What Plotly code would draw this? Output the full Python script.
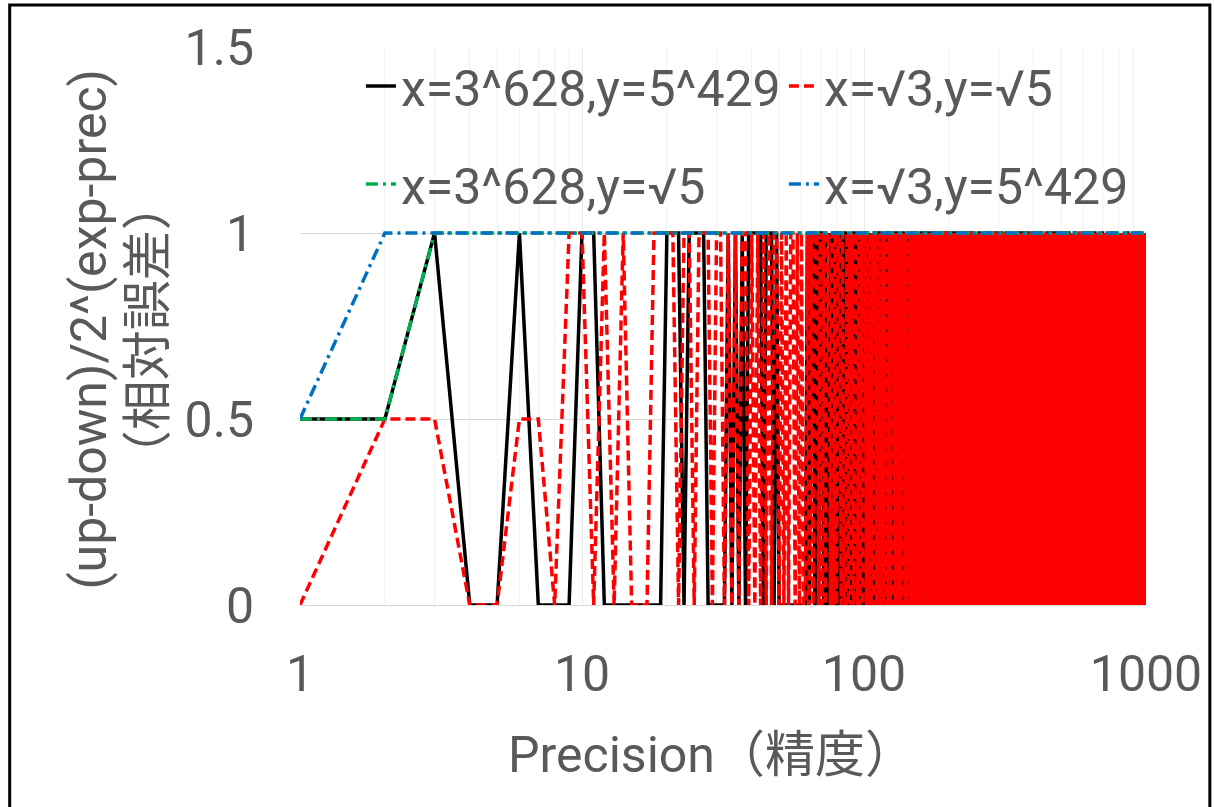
import plotly.graph_objects as go

# ---------------- data ----------------
# values per precision 1..1000 ; 'h' = 0.5
BLACK_STR = """
hh10010001 1000000001 1101111000 0010101011 1110111010
0000000000 0010110101 1010010110 1010110101 0110101011
0110100101 1011010010 1101001011 0100101101 1010010110
0101101001 1001011010 0110100110 1011001011 0100110101
1100101101 0011010110 1010011001 0110101001 1011010100
0101011010 1010100101 1101010010 0010110101 1001101010
1010101101 0101001011 0110110100 1001010110 1101001010
0110010101 1010110010 0101101101 1010010101 0011010110
1001101001 0110010110 1010101001 0101100110 1010011010
0101010110 1100101001 0011010101 1010100110 0101011001
1010011010 0101100101 1001010110 0110101010 1010010101
0110101001 1010010110 0101101010 1001011001 0110100101
1001010101 0110101010 1010110100 0101001011 1010101100
0101100110 1010011001 0110010101 1001101010 0101010011
1010101010 0101011010 1001100101 0110010110 1010100101
0011010101 1100101010 0101010110 1010101001 0110011010
1001010110 0101101001 1010010101 0110101010 1001010101
0101011001 1010100110 0110101001 1001010110 0101101010
1010100101 0101011010 1010101001 0110010101 1001101010
0101010101 1010010110 0101101010 1010101001 0110101011
"""

RED_STR = """
0hh00hh011 0101000111 1011011101 1010101101 0101010110
1010110101 0010101101 0101101010 1101001010 1011010101
1010101011 0101010100 1010110101 0101010010 1011010101
0101010101 1010100101 0101011010 1010101010 0101101010
1011010101 0100101010 1101010101 0010101011 0101010101
1010101010 0101011010 1010100101 0101010101 1010101010
0101101010 1010101001 0101010110 1010101010 0101010101
1010101010 0101010101 1010110101 0101010101 1010101010
0101010101 1010101010 0101010101 1010010101 0101010101
1010101010 0101010101 1010101010 0101010101 1010101010
0101010101 1010101011 0101010101 0101010101 1010101010
0101010101 1010101010 0101010110 1010101010 0101010101
1010101010 0101010101 1010101010 1010101010 0101010101
1010101010 0101010101 0101010101 1010101010 0101010101
1010101010 1010101010 0101010101 1010101010 0101010101
1010101010 0101010101 1010101010 0101010101 0101010101
1010101010 0101010101 1010101010 0101010101 1010101010
1010101010 0101010101 1010101010 0101010101 1010101010
0101010101 1010101010 0101010101 1010101010 0101010101
1010101010 0101010101 1010101010 0101010101 1010101011
"""

# green / blue : breakpoints (constant 1 afterwards)
GREEN_X = [1, 2, 3, 1000]
GREEN_Y = [0.5, 0.5, 1, 1]
BLUE_X = [1, 2, 1000]
BLUE_Y = [0.5, 1, 1]

SERIES_NAMES = ["x=3^628,y=5^429", "x=√3,y=√5", "x=3^628,y=√5", "x=√3,y=5^429"]
X_TICKS = ["1", "10", "100", "1000"]
Y_TICKS = ["0", "0.5", "1", "1.5"]
Y_TICKVALS = [0, 0.5, 1, 1.5]
X_TICKVALS = [1, 10, 100, 1000]
X_TITLE = "Precision（精度）"
Y_TITLE_1 = "(up-down)/2^(exp-prec)"
Y_TITLE_2 = "（相対誤差）"

MAP = {"0": 0.0, "1": 1.0, "h": 0.5}
black_y = [MAP[c] for c in "".join(BLACK_STR.split())]
red_y = [MAP[c] for c in "".join(RED_STR.split())]
black_x = list(range(1, len(black_y) + 1))
red_x = list(range(1, len(red_y) + 1))

FONT = "Roboto, Noto Sans CJK JP, sans-serif"
GRAY = "#595959"
FS = 50

fig = go.Figure()
fig.add_trace(go.Scatter(x=black_x, y=black_y, mode="lines", name=SERIES_NAMES[0],
                         line=dict(color="#000000", width=3.5), legend="legend", legendgroup="a"))
fig.add_trace(go.Scatter(x=red_x, y=red_y, mode="lines", name=SERIES_NAMES[1],
                         line=dict(color="#FF0000", width=3.5, dash="10px,5px"), legend="legend2", legendgroup="b"))
fig.add_trace(go.Scatter(x=GREEN_X, y=GREEN_Y, mode="lines", name=SERIES_NAMES[2],
                         line=dict(color="#00B050", width=3.5, dash="12px,5px,3px,5px"), legend="legend", legendgroup="c"))
fig.add_trace(go.Scatter(x=BLUE_X, y=BLUE_Y, mode="lines", name=SERIES_NAMES[3],
                         line=dict(color="#0070C0", width=3.5, dash="12px,5px,3px,5px"), legend="legend2", legendgroup="d"))

fig.update_layout(
    width=1214, height=807,
    margin=dict(l=300, r=66, t=47, b=202),
    paper_bgcolor="white", plot_bgcolor="white",
    font=dict(family=FONT, color=GRAY, size=FS),
    legend=dict(x=0.072, y=1.0, xanchor="left", yanchor="top", bgcolor="rgba(0,0,0,0)",
                font=dict(size=FS, color=GRAY, family=FONT), tracegroupgap=30, itemwidth=30),
    legend2=dict(x=0.572, y=1.0, xanchor="left", yanchor="top", bgcolor="rgba(0,0,0,0)",
                 font=dict(size=FS, color=GRAY, family=FONT), tracegroupgap=30, itemwidth=30),
    showlegend=True,
)

fig.update_xaxes(type="log", range=[0, 3], tickvals=X_TICKVALS, ticktext=X_TICKS,
                 showgrid=True, gridcolor="#E8E8E8", gridwidth=1,
                 minor=dict(dtick="D1", showgrid=True, gridcolor="#F2F2F2", ticks=""),
                 showline=True, linecolor="#D9D9D9", linewidth=1, zeroline=False,
                 ticks="", ticklabelstandoff=25, tickfont=dict(size=FS, color=GRAY))
fig.update_yaxes(range=[0, 1.5], tickvals=Y_TICKVALS, ticktext=Y_TICKS,
                 showgrid=True, gridcolor="#D9D9D9", gridwidth=1, zeroline=False,
                 showline=False, ticks="", ticklabelstandoff=45, tickfont=dict(size=FS, color=GRAY))

# axis titles
fig.add_annotation(text=X_TITLE, xref="paper", yref="paper", x=(712 - 300) / 848, y=-(755 - 605) / 558,
                   showarrow=False, xanchor="center", yanchor="middle", font=dict(size=FS, color=GRAY, family=FONT))
fig.add_annotation(text=Y_TITLE_1, xref="paper", yref="paper", x=(88 - 300) / 848, y=(605 - 330) / 558,
                   showarrow=False, textangle=-90, xanchor="center", yanchor="middle",
                   font=dict(size=FS, color=GRAY, family=FONT))
fig.add_annotation(text=Y_TITLE_2, xref="paper", yref="paper", x=(148 - 300) / 848, y=(605 - 330) / 558,
                   showarrow=False, textangle=-90, xanchor="center", yanchor="middle",
                   font=dict(size=FS, color=GRAY, family=FONT))

# outer frame
fig.add_shape(type="rect", xref="paper", yref="paper",
              x0=(9 - 300) / 848, x1=(1212 - 300) / 848,
              y0=(605 - 812) / 558, y1=(605 - 5) / 558,
              line=dict(color="black", width=3), fillcolor="rgba(0,0,0,0)", layer="above")

fig.write_html("out.html")
